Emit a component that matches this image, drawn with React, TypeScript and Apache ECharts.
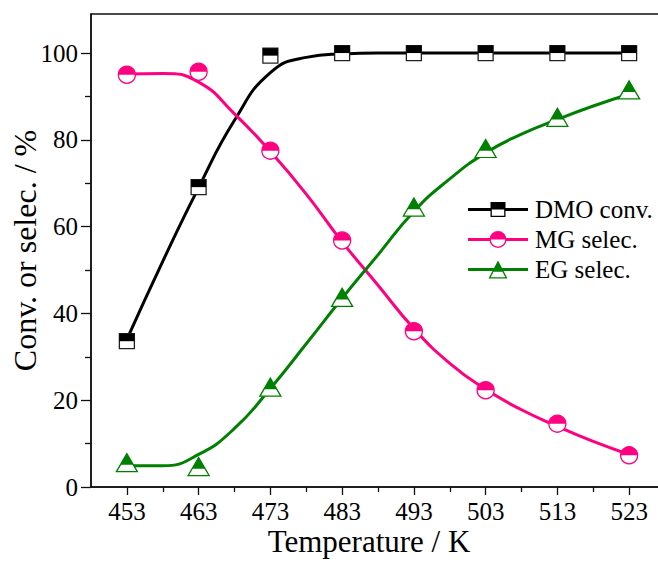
import React, { useEffect, useRef } from "react";
import * as echarts from "echarts";

// Reaction temperatures (K) and measured values (%)
const temperatures = [453, 463, 473, 483, 493, 503, 513, 523];
const dmoConversion = [33.6, 69.1, 99.4, 100, 100, 100, 100, 100];
const mgSelectivity = [95.0, 95.7, 77.5, 56.8, 35.9, 22.3, 14.6, 7.3];
const egSelectivity = [5.6, 4.7, 23.0, 43.7, 64.5, 78.0, 85.2, 91.5];

// Fitted trend curves, sampled every 5 K
const fitTemperatures = [453, 458, 463, 468, 473, 478, 483, 488, 493, 498, 503, 508, 513, 518, 523];
const dmoFit = [34, 52, 69, 84.5, 95.5, 99, 99.8, 100, 100, 100, 100, 100, 100, 100, 100];
const mgFit = [95.2, 95.3, 93.3, 86, 77.3, 67.5, 56.5, 46.5, 36.5, 28.5, 22.5, 17.8, 14, 10.5, 7.5];
const egFit = [4.9, 4.9, 7.5, 13.5, 22.7, 33, 43.5, 53.5, 63.5, 71, 77, 81.3, 84.7, 87.8, 90.5];

// Axis ticks
const xMajorTicks = [453, 463, 473, 483, 493, 503, 513, 523];
const xMinorTicks = [458, 468, 478, 488, 498, 508, 518];
const yMajorTicks = [0, 20, 40, 60, 80, 100];
const yMinorTicks = [10, 30, 50, 70, 90];

const FONT = '"Liberation Serif", "Times New Roman", serif';
const BLACK = "#000000";
const PINK = "#ff0080";
const GREEN = "#008000";

// Upper-half fills of the markers; the corner points keep the bounding box square
const halfSquare = "path://M0 0 L20 0 L20 10 L0 10 Z M0 20 L0 20 M20 20 L20 20";
const halfCircle = "path://M0 10 A10 10 0 0 1 20 10 Z M0 20 L0 20 M20 20 L20 20 M0 0 L0 0";
const halfTriangle = "path://M10 0 L16.2 12.4 L3.8 12.4 Z M0 20 L0 20 M20 20 L20 20";

// Legend icons: line + half-filled marker in one 60x18 path (bottom interior cut out)
const frame = " M0 0 L0 0 M60 18 L60 18";
const legendSquare =
  "path://M0 7.5 L22.5 7.5 L22.5 10.5 L0 10.5 Z M37.5 7.5 L60 7.5 L60 10.5 L37.5 10.5 Z" +
  " M22.5 1.5 L37.5 1.5 L37.5 16.5 L22.5 16.5 Z M23.8 9 L23.8 15.2 L36.2 15.2 L36.2 9 Z" + frame;
const legendCircle =
  "path://M0 7.5 L22 7.5 L22 10.5 L0 10.5 Z M38 7.5 L60 7.5 L60 10.5 L38 10.5 Z" +
  " M21.5 9 A8.5 8.5 0 0 1 38.5 9 A8.5 8.5 0 0 1 21.5 9 Z M22.8 9 A7.2 7.2 0 0 0 37.2 9 L22.8 9 Z" + frame;
const legendTriangle =
  "path://M0 7.5 L25.8 7.5 L25.8 10.5 L0 10.5 Z M34.2 7.5 L60 7.5 L60 10.5 L34.2 10.5 Z" +
  " M30 0 L39.5 18 L20.5 18 Z M25.6 11.2 L22.7 16.7 L37.3 16.7 L34.4 11.2 Z" + frame;

const pairs = (xs: number[], ys: number[]) => xs.map((x, i) => [x, ys[i]]);

const fitLine = (name: string, color: string, values: number[]) => ({
  type: "line",
  name,
  data: pairs(fitTemperatures, values),
  smooth: 0.5,
  showSymbol: false,
  symbol: "none",
  lineStyle: { color, width: 3 },
  itemStyle: { color },
  z: 2,
});

const outlineMarker = (name: string, color: string, symbol: string, size: number | number[], values: number[]) => ({
  type: "scatter",
  name,
  data: pairs(temperatures, values),
  symbol,
  symbolSize: size,
  itemStyle: { color: "#ffffff", borderColor: color, borderWidth: 1.3, opacity: 1 },
  z: 3,
});

const halfMarker = (name: string, color: string, symbol: string, size: number | number[], values: number[]) => ({
  type: "scatter",
  name,
  data: pairs(temperatures, values),
  symbol,
  symbolSize: size,
  itemStyle: { color, borderWidth: 0, opacity: 1 },
  z: 4,
});

export default function App() {
  const ref = useRef<HTMLDivElement>(null);

  useEffect(() => {
    if (!ref.current) return;
    const chart = echarts.init(ref.current, undefined, { renderer: "svg" });

    const axisLine = { show: true, lineStyle: { color: "#111", width: 1.5 } };
    const labelStyle = { color: BLACK, fontFamily: FONT, fontSize: 25 };

    chart.setOption({
      animation: false,
      backgroundColor: "#ffffff",
      textStyle: { fontFamily: FONT },
      grid: {
        left: 91,
        right: -7,
        top: 14,
        bottom: 76,
        show: true,
        borderColor: "#111",
        borderWidth: 1.5,
        outerBoundsMode: "none",
        containLabel: false,
      },
      xAxis: [
        {
          type: "value",
          min: 448,
          max: 528,
          position: "bottom",
          axisLine,
          axisTick: { show: true, inside: false, length: 8, customValues: xMajorTicks, lineStyle: { color: "#111", width: 1.3 } },
          axisLabel: { ...labelStyle, margin: 12, customValues: xMajorTicks },
          splitLine: { show: false },
          name: "Temperature / K",
          nameLocation: "middle",
          nameGap: 39,
          nameMoveOverlap: false,
          nameTextStyle: { color: BLACK, fontFamily: FONT, fontSize: 31, padding: [0, 18, 0, 0] },
        },
        {
          type: "value",
          min: 448,
          max: 528,
          position: "bottom",
          axisLine: { show: false },
          axisTick: { show: true, inside: false, length: 5, customValues: xMinorTicks, lineStyle: { color: "#111", width: 1.3 } },
          axisLabel: { show: false },
          splitLine: { show: false },
        },
      ],
      yAxis: [
        {
          type: "value",
          min: 0,
          max: 109,
          position: "left",
          axisLine,
          axisTick: { show: true, inside: false, length: 10, customValues: yMajorTicks, lineStyle: { color: "#111", width: 1.3 } },
          axisLabel: { ...labelStyle, margin: 13, customValues: yMajorTicks },
          splitLine: { show: false },
          name: "Conv. or selec. / %",
          nameLocation: "middle",
          nameGap: 50,
          nameMoveOverlap: false,
          nameTextStyle: { color: BLACK, fontFamily: FONT, fontSize: 32 },
        },
        {
          type: "value",
          min: 0,
          max: 109,
          position: "left",
          axisLine: { show: false },
          axisTick: { show: true, inside: false, length: 6, customValues: yMinorTicks, lineStyle: { color: "#111", width: 1.3 } },
          axisLabel: { show: false },
          splitLine: { show: false },
        },
      ],
      legend: {
        orient: "vertical",
        left: 463,
        top: 192,
        itemWidth: 60,
        itemHeight: 18,
        itemGap: 5,
        selectedMode: false,
        textStyle: { color: BLACK, fontFamily: FONT, fontSize: 25, padding: [0, 0, 0, 2] },
        itemStyle: { borderWidth: 0 },
        data: [
          { name: "DMO conv.", icon: legendSquare, itemStyle: { color: BLACK, borderWidth: 0 } },
          { name: "MG selec.", icon: legendCircle, itemStyle: { color: PINK, borderWidth: 0 } },
          { name: "EG selec.", icon: legendTriangle, itemStyle: { color: GREEN, borderWidth: 0 } },
        ],
      },
      series: [
        fitLine("DMO conv.", BLACK, dmoFit),
        fitLine("MG selec.", PINK, mgFit),
        fitLine("EG selec.", GREEN, egFit),
        outlineMarker("DMO points", "#222", "rect", 15, dmoConversion),
        outlineMarker("MG points", PINK, "circle", 17, mgSelectivity),
        outlineMarker("EG points", GREEN, "triangle", [21, 18], egSelectivity),
        halfMarker("DMO half", BLACK, halfSquare, 15, dmoConversion),
        halfMarker("MG half", PINK, halfCircle, 17, mgSelectivity),
        halfMarker("EG half", GREEN, halfTriangle, [21, 18], egSelectivity),
      ],
    });

    return () => chart.dispose();
  }, []);

  return (
    <div
      ref={ref}
      style={{ position: "fixed", left: 0, top: 0, width: 658, height: 563, background: "#fff" }}
    />
  );
}
